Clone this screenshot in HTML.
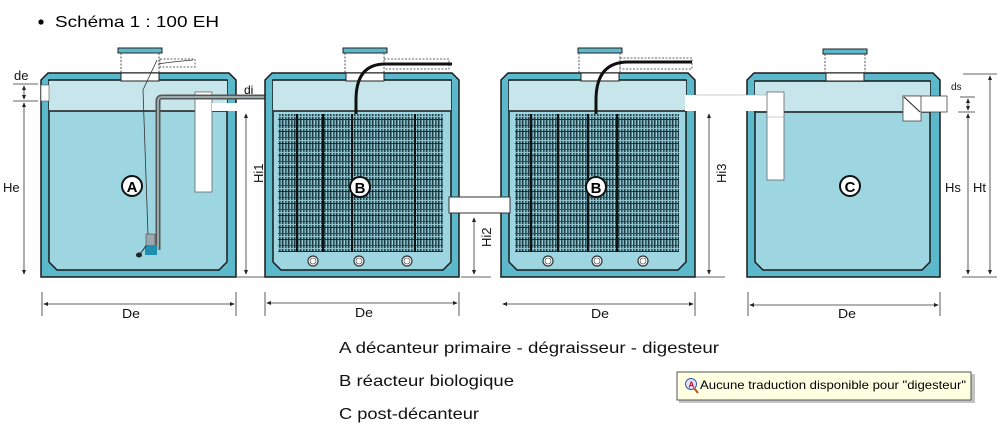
<!DOCTYPE html>
<html><head><meta charset="utf-8">
<style>
html,body{margin:0;padding:0;background:#fff;}
svg{display:block;}
text{font-family:"Liberation Sans",Arial,sans-serif;}
</style></head>
<body>
<svg width="997" height="433" viewBox="0 0 997 433" xmlns="http://www.w3.org/2000/svg">
<defs>
  <pattern id="mesh" width="6" height="12" patternUnits="userSpaceOnUse">
    <rect width="6" height="12" fill="#4f7f8a"/>
    <rect x="0" y="0" width="1" height="12" fill="#1d3b43"/>
    <rect x="3" y="0" width="1" height="12" fill="#2c4f58"/>
    <rect x="2" y="0" width="1" height="12" fill="#9ccbd4"/>
    <rect x="5" y="0" width="1" height="12" fill="#7fb3bd"/>
    <rect x="0" y="5" width="6" height="1" fill="#2c4f58"/>
    <rect x="0" y="11" width="6" height="1" fill="#15303a"/>
    <rect x="0" y="8" width="6" height="1" fill="#8fc0ca"/>
  </pattern>
  <marker id="ah" viewBox="0 0 6 6" refX="5" refY="3" markerWidth="6" markerHeight="6" orient="auto-start-reverse">
    <path d="M0,0.5 L6,3 L0,5.5 z" fill="#222"/>
  </marker>
</defs>

<circle cx="41" cy="22" r="2.6" fill="#000"/>
<text x="55" y="27" font-size="16" textLength="164" lengthAdjust="spacingAndGlyphs">Schéma 1 : 100 EH</text>

<!-- Tank A -->
<g>
  <path d="M48,73 L229,73 L236,80 L236,277 L41,277 L41,80 Z" fill="#5cb9cc" stroke="#1a1a1a" stroke-width="1.5"/>
  <path d="M49,80 L227,80 L227,262 L219,270 L57,270 L49,262 Z" fill="#9dd6e1" stroke="#1a1a1a" stroke-width="1.5"/>
  <rect x="49" y="81" width="178" height="30" fill="#c7e6ec"/>
  <line x1="49" y1="111" x2="227" y2="111" stroke="#1a1a1a" stroke-width="1.5"/>
  <rect x="121" y="73" width="38" height="8" fill="#fff" stroke="#222" stroke-width="1"/>
  <rect x="118" y="48" width="44" height="5" fill="#5cb9cc" stroke="#222" stroke-width="1"/>
  <line x1="121" y1="53" x2="121" y2="73" stroke="#555" stroke-dasharray="2,1.5"/>
  <line x1="159" y1="53" x2="159" y2="73" stroke="#555" stroke-dasharray="2,1.5"/>
  <rect x="160" y="59" width="35" height="8" fill="none" stroke="#666" stroke-dasharray="2,1.5"/>
  <path d="M158,64 Q170,62 193,60" fill="none" stroke="#333" stroke-width="0.8"/>
  <rect x="41" y="85" width="8" height="16" fill="#fff" stroke="#555" stroke-width="0.6"/>
  <rect x="195" y="92" width="17" height="100" fill="#fff" stroke="#666" stroke-width="0.8"/>
  <path d="M157,60 L143,90 L148,235" fill="none" stroke="#333" stroke-width="0.8"/>
  <path d="M158,250 L158,101 Q158,97 162,97 L285,97 Q287,97 287,101 L287,105" fill="none" stroke="#555" stroke-width="5"/>
  <path d="M158,250 L158,101 Q158,97 162,97 L285,97" fill="none" stroke="#9aa" stroke-width="2"/>
  <rect x="146" y="234" width="9" height="14" fill="#9aa9ad" stroke="#333" stroke-width="0.5"/>
  <rect x="145" y="245" width="12" height="10" fill="#1f8fb0"/>
  <line x1="146" y1="246" x2="140" y2="254" stroke="#222"/>
  <ellipse cx="139" cy="255" rx="3" ry="2.5" fill="#222"/>
  <circle cx="132" cy="186" r="10" fill="#fff" stroke="#111" stroke-width="2"/>
  <text x="132" y="192" font-size="15" font-weight="bold" text-anchor="middle">A</text>
</g>

<rect x="212" y="103" width="62" height="8" fill="#fff"/>
<text x="244" y="94" font-size="12">di</text>

<!-- Tank B1 -->
<g>
  <path d="M272,73 L452,73 L459,80 L459,277 L265,277 L265,80 Z" fill="#5cb9cc" stroke="#1a1a1a" stroke-width="1.5"/>
  <path d="M273,80 L451,80 L451,262 L443,270 L281,270 L273,262 Z" fill="#9dd6e1" stroke="#1a1a1a" stroke-width="1.5"/>
  <rect x="273" y="81" width="178" height="30" fill="#c7e6ec"/>
  <line x1="273" y1="111" x2="451" y2="111" stroke="#1a1a1a" stroke-width="1.5"/>
  <rect x="278" y="114" width="165" height="138" fill="url(#mesh)"/>
  <g stroke="#111" stroke-width="2"><line x1="297" y1="114" x2="297" y2="252"/><line x1="323" y1="114" x2="323" y2="252"/><line x1="352" y1="114" x2="352" y2="252"/><line x1="415" y1="114" x2="415" y2="252"/></g>
  <rect x="346" y="73" width="38" height="8" fill="#fff" stroke="#222" stroke-width="1"/>
  <rect x="343" y="48" width="44" height="5" fill="#5cb9cc" stroke="#222" stroke-width="1"/>
  <line x1="345" y1="53" x2="345" y2="73" stroke="#555" stroke-dasharray="2,1.5"/>
  <line x1="384" y1="53" x2="384" y2="73" stroke="#555" stroke-dasharray="2,1.5"/>
  <rect x="384" y="59" width="65" height="10" fill="none" stroke="#666" stroke-dasharray="2,1.5"/>
  <path d="M356,114 L356,100 Q356,64 385,64 L452,64" fill="none" stroke="#111" stroke-width="3"/>
  <g fill="#fff" stroke="#333" stroke-width="1.2"><circle cx="313" cy="261" r="5"/><circle cx="359" cy="261" r="5"/><circle cx="407" cy="261" r="5"/></g>
  <g fill="none" stroke="#333" stroke-width="0.6"><circle cx="313" cy="261" r="3"/><circle cx="359" cy="261" r="3"/><circle cx="407" cy="261" r="3"/></g>
  <circle cx="360" cy="187" r="10" fill="#fff" stroke="#111" stroke-width="2"/>
  <text x="360" y="193" font-size="15" font-weight="bold" text-anchor="middle">B</text>
</g>

<!-- Tank B2 -->
<g>
  <path d="M508,73 L688,73 L695,80 L695,277 L501,277 L501,80 Z" fill="#5cb9cc" stroke="#1a1a1a" stroke-width="1.5"/>
  <path d="M509,80 L686,80 L686,262 L678,270 L517,270 L509,262 Z" fill="#9dd6e1" stroke="#1a1a1a" stroke-width="1.5"/>
  <rect x="509" y="81" width="177" height="30" fill="#c7e6ec"/>
  <line x1="509" y1="111" x2="686" y2="111" stroke="#1a1a1a" stroke-width="1.5"/>
  <rect x="515" y="114" width="164" height="138" fill="url(#mesh)"/>
  <g stroke="#111" stroke-width="2"><line x1="531" y1="114" x2="531" y2="252"/><line x1="558" y1="114" x2="558" y2="252"/><line x1="588" y1="114" x2="588" y2="252"/><line x1="617" y1="114" x2="617" y2="252"/></g>
  <rect x="581" y="73" width="38" height="8" fill="#fff" stroke="#222" stroke-width="1"/>
  <rect x="578" y="48" width="44" height="5" fill="#5cb9cc" stroke="#222" stroke-width="1"/>
  <line x1="579" y1="53" x2="579" y2="73" stroke="#555" stroke-dasharray="2,1.5"/>
  <line x1="620" y1="53" x2="620" y2="73" stroke="#555" stroke-dasharray="2,1.5"/>
  <rect x="620" y="58" width="72" height="11" fill="none" stroke="#666" stroke-dasharray="2,1.5"/>
  <path d="M596,114 L596,100 Q596,62 628,62 L692,62" fill="none" stroke="#111" stroke-width="3"/>
  <g fill="#fff" stroke="#333" stroke-width="1.2"><circle cx="548" cy="261" r="5"/><circle cx="597" cy="261" r="5"/><circle cx="643" cy="261" r="5"/></g>
  <g fill="none" stroke="#333" stroke-width="0.6"><circle cx="548" cy="261" r="3"/><circle cx="597" cy="261" r="3"/><circle cx="643" cy="261" r="3"/></g>
  <circle cx="596" cy="187" r="10" fill="#fff" stroke="#111" stroke-width="2"/>
  <text x="596" y="193" font-size="15" font-weight="bold" text-anchor="middle">B</text>
</g>

<rect x="449" y="197" width="61" height="16" fill="#fff" stroke="#333" stroke-width="1"/>

<!-- Tank C -->
<g>
  <path d="M754,73 L933,73 L940,80 L940,277 L747,277 L747,80 Z" fill="#5cb9cc" stroke="#1a1a1a" stroke-width="1.5"/>
  <path d="M755,81 L930,81 L930,262 L922,270 L763,270 L755,262 Z" fill="#9dd6e1" stroke="#1a1a1a" stroke-width="1.5"/>
  <rect x="755" y="82" width="175" height="29" fill="#c7e6ec"/>
  <line x1="755" y1="112" x2="930" y2="112" stroke="#1a1a1a" stroke-width="1.5"/>
  <rect x="826" y="73" width="38" height="8" fill="#fff" stroke="#222" stroke-width="1"/>
  <rect x="823" y="49" width="44" height="5" fill="#5cb9cc" stroke="#222" stroke-width="1"/>
  <line x1="825" y1="54" x2="825" y2="73" stroke="#555" stroke-dasharray="2,1.5"/>
  <line x1="865" y1="54" x2="865" y2="73" stroke="#555" stroke-dasharray="2,1.5"/>
  <circle cx="850" cy="186" r="10" fill="#fff" stroke="#111" stroke-width="2"/>
  <text x="850" y="192" font-size="15" font-weight="bold" text-anchor="middle">C</text>
  <rect x="903" y="96" width="44" height="16" fill="#fff" stroke="#444" stroke-width="0.8"/>
  <rect x="903" y="96" width="18" height="25" fill="#fff" stroke="#444" stroke-width="0.8"/>
  <line x1="904" y1="97" x2="920" y2="112" stroke="#222" stroke-width="1"/>
</g>
<rect x="685" y="95" width="85" height="16" fill="#fff"/>
<line x1="695" y1="95" x2="770" y2="95" stroke="#999" stroke-width="0.5"/>
<rect x="767" y="92" width="17" height="88" fill="#fff" stroke="#666" stroke-width="0.8"/>
<line x1="767" y1="117" x2="784" y2="117" stroke="#999" stroke-width="0.6"/>

<g stroke="#333" stroke-width="0.8" fill="none">
  <line x1="13" y1="84" x2="38" y2="84"/><line x1="13" y1="101" x2="38" y2="101"/>
  <line x1="24" y1="86" x2="24" y2="99" marker-start="url(#ah)" marker-end="url(#ah)"/>
  <line x1="24" y1="103" x2="24" y2="274" marker-start="url(#ah)" marker-end="url(#ah)"/>
  <line x1="246" y1="114" x2="246" y2="274" marker-start="url(#ah)" marker-end="url(#ah)"/>
  <line x1="237" y1="277" x2="265" y2="277"/>
  <line x1="474" y1="218" x2="474" y2="274" marker-start="url(#ah)" marker-end="url(#ah)"/>
  <line x1="461" y1="277" x2="491" y2="277"/>
  <line x1="709" y1="114" x2="709" y2="274" marker-start="url(#ah)" marker-end="url(#ah)"/>
  <line x1="695" y1="277" x2="725" y2="277"/>
  <line x1="960" y1="97" x2="975" y2="97"/><line x1="958" y1="112" x2="975" y2="112"/>
  <line x1="968" y1="99" x2="968" y2="110" marker-start="url(#ah)" marker-end="url(#ah)"/>
  <line x1="968" y1="114" x2="968" y2="274" marker-start="url(#ah)" marker-end="url(#ah)"/>
  <line x1="963" y1="74" x2="997" y2="74"/>
  <line x1="990" y1="76" x2="990" y2="274" marker-start="url(#ah)" marker-end="url(#ah)"/>
  <line x1="962" y1="277" x2="997" y2="277"/>
  <line x1="42" y1="292" x2="42" y2="316"/><line x1="236" y1="292" x2="236" y2="316"/>
  <line x1="44" y1="304" x2="234" y2="304" marker-start="url(#ah)" marker-end="url(#ah)"/>
  <line x1="265" y1="292" x2="265" y2="316"/><line x1="459" y1="292" x2="459" y2="316"/>
  <line x1="267" y1="303" x2="457" y2="303" marker-start="url(#ah)" marker-end="url(#ah)"/>
  <line x1="695" y1="292" x2="695" y2="316"/>
  <line x1="503" y1="304" x2="693" y2="304" marker-start="url(#ah)" marker-end="url(#ah)"/>
  <line x1="748" y1="292" x2="748" y2="316"/><line x1="940" y1="292" x2="940" y2="316"/>
  <line x1="750" y1="305" x2="938" y2="305" marker-start="url(#ah)" marker-end="url(#ah)"/>
</g>
<g font-size="13" fill="#111">
  <text x="14" y="80">de</text>
  <text x="3" y="192">He</text>
  <text x="945" y="192">Hs</text>
  <text x="973" y="192">Ht</text>
  <text x="951" y="90" font-size="10">ds</text>
  <text transform="translate(263,183) rotate(-90)">Hi1</text>
  <text transform="translate(491,247) rotate(-90)">Hi2</text>
  <text transform="translate(726,183) rotate(-90)">Hi3</text>
  <text x="122" y="318" textLength="18" lengthAdjust="spacingAndGlyphs">De</text>
  <text x="355" y="317" textLength="18" lengthAdjust="spacingAndGlyphs">De</text>
  <text x="591" y="318" textLength="18" lengthAdjust="spacingAndGlyphs">De</text>
  <text x="838" y="318" textLength="18" lengthAdjust="spacingAndGlyphs">De</text>
</g>

<g font-size="16" fill="#111">
  <text x="339" y="353" textLength="380" lengthAdjust="spacingAndGlyphs">A décanteur primaire - dégraisseur - digesteur</text>
  <text x="339" y="386" textLength="175" lengthAdjust="spacingAndGlyphs">B réacteur biologique</text>
  <text x="339" y="419" textLength="140" lengthAdjust="spacingAndGlyphs">C post-décanteur</text>
</g>

<rect x="679" y="374" width="296" height="29" fill="#888" opacity="0.5"/>
<rect x="677" y="372" width="294" height="28" fill="#ffffe1" stroke="#555" stroke-width="1"/>
<circle cx="691" cy="384" r="5.5" fill="#dfe6f5" stroke="#3355aa" stroke-width="1"/>
<text x="688.5" y="387.5" font-size="8" font-weight="bold" fill="#c03">A</text>
<line x1="694" y1="388" x2="698" y2="393" stroke="#a52" stroke-width="2"/>
<text x="700" y="389" font-size="12" fill="#000" textLength="266" lengthAdjust="spacingAndGlyphs">Aucune traduction disponible pour "digesteur"</text>
</svg>
</body></html>
